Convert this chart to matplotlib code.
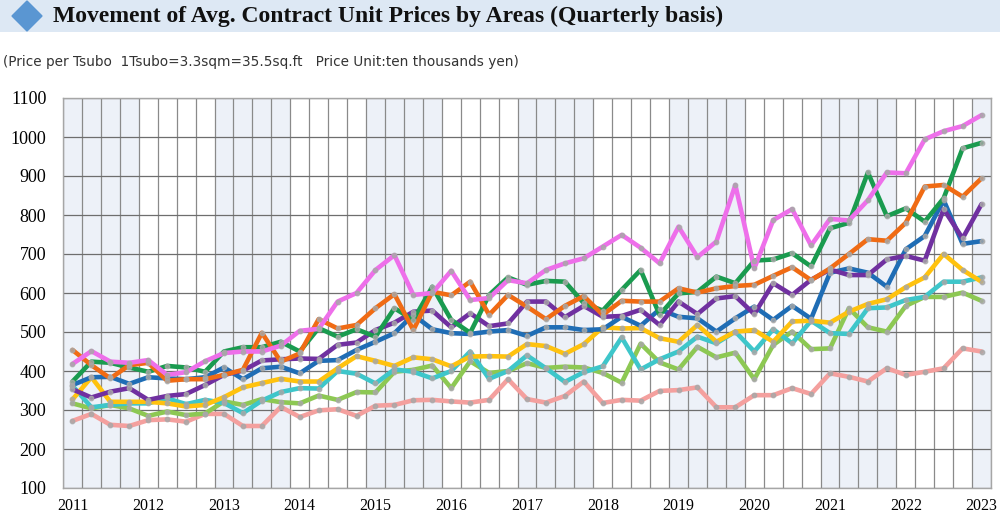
import matplotlib
matplotlib.use("Agg")
import matplotlib.pyplot as plt
from matplotlib.patches import Polygon, Rectangle
import numpy as np

years = list(range(2011, 2024))
n_quarters = 49  # 2011Q1 .. 2023Q1

magenta = [418, 451, 424, 421, 428, 390, 397, 425, 446, 450, 450, 465, 503, 508, 578, 600,
           659, 697, 595, 600, 657, 582, 587, 633, 625, 659, 676, 689, 719, 749, 716, 676,
           770, 692, 732, 877, 663, 787, 815, 722, 790, 786, 838, 909, 907, 994, 1015, 1028, 1056]
green = [373, 424, 421, 409, 398, 413, 409, 398, 450, 461, 461, 475, 450, 510, 488, 507,
         488, 561, 531, 616, 531, 498, 595, 640, 621, 631, 629, 574, 555, 608, 659, 544,
         599, 603, 642, 625, 683, 686, 702, 668, 766, 780, 909, 797, 817, 783, 843, 971, 985]
orange = [454, 415, 381, 415, 421, 375, 379, 379, 390, 403, 498, 424, 445, 533, 509, 518,
          561, 597, 505, 603, 594, 629, 544, 595, 565, 533, 567, 592, 544, 580, 578, 578,
          612, 601, 612, 618, 621, 644, 666, 633, 663, 700, 738, 734, 780, 873, 877, 847, 894]
blue = [364, 384, 385, 367, 384, 381, 379, 384, 409, 379, 407, 411, 394, 426, 428, 454,
        475, 497, 544, 507, 497, 495, 501, 505, 490, 512, 512, 505, 507, 539, 516, 558,
        539, 535, 501, 535, 565, 531, 567, 534, 652, 663, 652, 616, 712, 746, 838, 726, 733]
purple = [353, 332, 347, 356, 326, 336, 341, 364, 390, 401, 427, 430, 432, 431, 467, 473,
          505, 524, 552, 555, 512, 548, 515, 522, 578, 578, 538, 567, 539, 541, 557, 518,
          578, 546, 586, 592, 546, 625, 595, 634, 660, 646, 646, 686, 695, 683, 815, 740, 828]
yellow = [327, 384, 321, 321, 321, 317, 309, 313, 333, 358, 369, 380, 373, 373, 407, 438,
          426, 413, 435, 430, 412, 437, 438, 437, 469, 464, 444, 469, 512, 509, 510, 484,
          475, 518, 475, 501, 505, 475, 527, 529, 524, 552, 572, 584, 615, 640, 700, 659, 629]
cyan = [362, 307, 313, 317, 317, 330, 315, 326, 318, 292, 324, 346, 356, 355, 400, 393,
        368, 404, 398, 381, 400, 450, 380, 400, 440, 407, 372, 397, 412, 486, 404, 430,
        450, 488, 471, 501, 450, 507, 471, 529, 497, 495, 561, 563, 582, 590, 629, 629, 640]
lightgreen = [317, 304, 313, 304, 285, 296, 287, 291, 322, 313, 328, 320, 317, 337, 326, 346,
              345, 398, 403, 414, 356, 425, 395, 400, 420, 408, 411, 409, 395, 370, 470, 422,
              404, 462, 435, 447, 379, 467, 501, 456, 458, 561, 512, 501, 567, 590, 590, 601, 580]
salmon = [272, 290, 262, 259, 274, 276, 270, 290, 290, 259, 259, 308, 282, 299, 302, 285,
          311, 313, 325, 326, 322, 319, 326, 379, 328, 319, 336, 373, 318, 326, 324, 349,
          351, 358, 307, 307, 338, 338, 356, 341, 394, 385, 373, 407, 390, 398, 407, 458, 450]

series = [
    (salmon, "#F4A09E"),
    (lightgreen, "#8DC853"),
    (cyan, "#3EC6CA"),
    (yellow, "#FFC20E"),
    (blue, "#1F6DB5"),
    (purple, "#7030A0"),
    (green, "#1A9B4F"),
    (orange, "#F06B14"),
    (magenta, "#EE6FEA"),
]

fig = plt.figure(figsize=(10, 5.15), dpi=100)

# Title band
band = fig.add_axes([0, 1 - 32 / 515, 1, 32 / 515])
band.set_xlim(0, 1000)
band.set_ylim(0, 32)
band.axis("off")
band.add_patch(Rectangle((0, 0), 1000, 32, color="#DDE8F4"))
band.add_patch(Polygon([[12, 16], [27, 31], [42, 16], [27, 1]], closed=True, color="#5A96D2"))
band.text(53, 15.5, "Movement of Avg. Contract Unit Prices by Areas (Quarterly basis)",
          fontsize=17, fontweight="bold", family="Liberation Serif", va="center", ha="left",
          color="#111111")

fig.text(0.003, 1 - 62 / 515,
         "(Price per Tsubo  1Tsubo=3.3sqm=35.5sq.ft   Price Unit:ten thousands yen)",
         fontsize=9.8, family="DejaVu Sans", va="center", ha="left", color="#333333")

ax = fig.add_axes([0.063, 1 - 488 / 515, 0.928, (488 - 98) / 515])
x = np.arange(n_quarters)

for k, yr in enumerate(years):
    if k % 2 == 0:
        ax.axvspan(4 * k - 0.5, min(4 * k + 3.5, n_quarters - 0.5), color="#EDF1F8", zorder=0, lw=0)

for q in range(n_quarters + 1):
    ax.axvline(q - 0.5, color="#8A8A8A", lw=0.9, zorder=1)
for v in range(100, 1101, 100):
    ax.axhline(v, color="#6E6E6E", lw=0.9, zorder=1)

for vals, col in series:
    ax.plot(x, vals, color=col, lw=3.3, zorder=3, solid_capstyle="round", solid_joinstyle="round")
    ax.plot(x, vals, ls="none", marker="o", ms=3.2, mfc="#A8A8A8", mec="#A8A8A8", alpha=0.8, zorder=4)

ax.set_xlim(-0.5, n_quarters - 0.5)
ax.set_ylim(100, 1100)
ax.set_yticks(range(100, 1101, 100))
ax.set_xticks([4 * k for k in range(len(years))])
ax.set_xticklabels([str(y) for y in years])
ax.tick_params(length=0)
ax.tick_params(axis="x", pad=7, labelsize=11.5)
ax.tick_params(axis="y", pad=12, labelsize=13)
for lab in ax.get_xticklabels() + ax.get_yticklabels():
    lab.set_family("Liberation Serif")
for s in ax.spines.values():
    s.set_color("#A6A6A6")
    s.set_linewidth(1)

fig.savefig("out.png", dpi=100)
